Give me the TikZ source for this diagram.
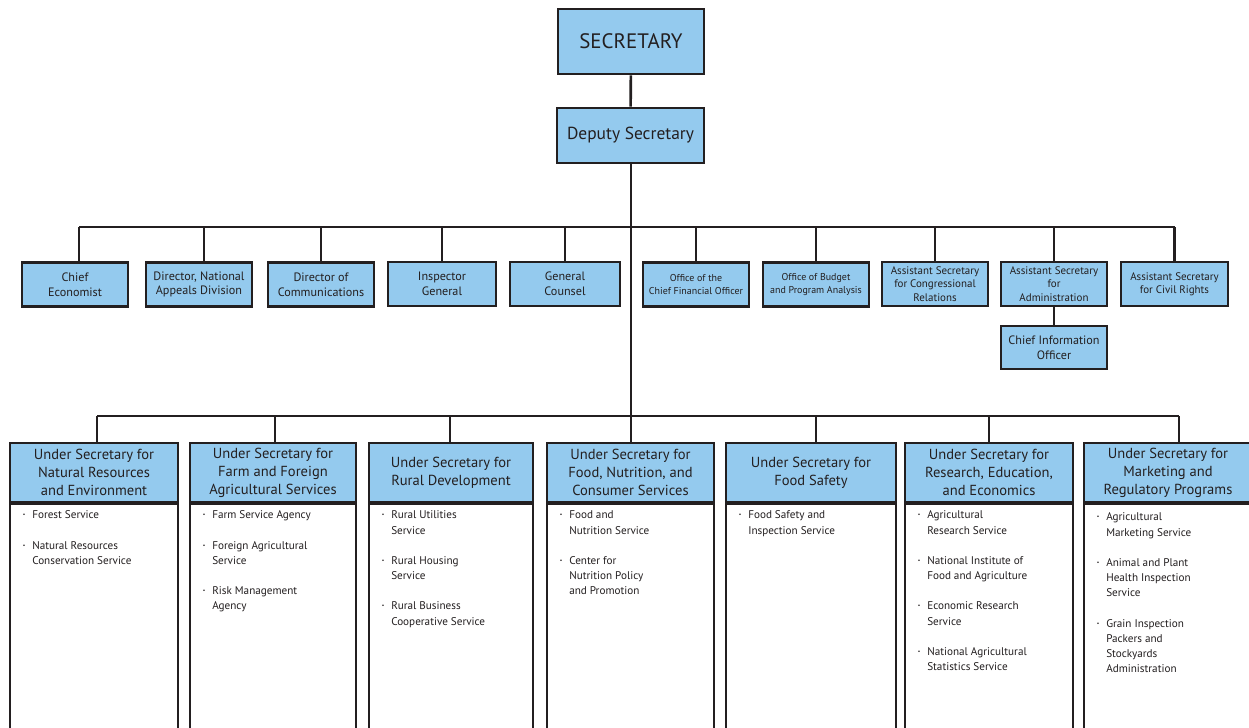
\documentclass[tikz,border=0pt]{standalone}
\usepackage{fontspec}
\setmainfont{PT Sans}
\definecolor{boxblue}{RGB}{148,202,238}
\definecolor{ink}{RGB}{35,31,32}
\newcommand{\bul}{\raisebox{0.35ex}{\fontsize{5.5}{5.5}\selectfont\textbullet}}
\begin{document}
\begin{tikzpicture}[x=1bp,y=-1bp,
  box/.style={draw=ink, fill=boxblue, line width=2.4bp, inner sep=0pt, align=center, text=ink},
  topbox/.style={box, line width=2.8bp},
  rowbox/.style={box, minimum width=106bp, minimum height=44bp, font=\fontsize{12.2}{14.8}\selectfont},
  tinybox/.style={rowbox, font=\fontsize{10}{12.8}\selectfont},
  asbox/.style={rowbox, font=\fontsize{11}{13.5}\selectfont},
  hdr/.style={box, line width=2.8bp, minimum height=59bp, font=\fontsize{14.6}{18}\selectfont},
  lst/.style={draw=ink, fill=white, line width=2.8bp, minimum height=260bp, inner sep=0pt, anchor=north},
  items/.style={anchor=north west, inner sep=0pt, text=ink, font=\fontsize{11.2}{15.3}\selectfont},
  conn/.style={draw=ink, line width=2.6bp},
  thinconn/.style={draw=ink, line width=2bp}]
\useasboundingbox (0,0) rectangle (1249,728);
\clip (0,0) rectangle (1249,728);
\fill[white] (0,0) rectangle (1249,728);

% top
\node[topbox, minimum width=146bp, minimum height=65bp, font=\fontsize{21}{24}\selectfont] (sec) at (631,41.5) {SECRETARY};
\node[topbox, minimum width=147bp, minimum height=55bp, font=\fontsize{17.5}{20}\selectfont] (dep) at (630.5,135.5) {Deputy Secretary};

% row 2
\node[rowbox] (ce) at (75,284.5) {Chief\\Economist};
\node[rowbox] (nad) at (199,284.5) {Director, National\\Appeals Division};
\node[rowbox] (com) at (321,284.5) {Director of\\Communications};
\node[rowbox, minimum width=108bp] (ig) at (442,284) {Inspector\\General};
\node[rowbox, minimum width=110bp] (gc) at (565,284) {General\\Counsel};
\node[tinybox] (cfo) at (696,284.5) {Office of the\\Chief Financial Officer};
\node[tinybox] (obpa) at (816,284.5) {Office of Budget\\and Program Analysis};
\node[asbox] (acr) at (935,284) {Assistant Secretary\\for Congressional\\Relations};
\node[asbox] (asa) at (1054,284) {Assistant Secretary\\for\\Administration};
\node[asbox, minimum width=107bp] (acv) at (1174.5,284) {Assistant Secretary\\for Civil Rights};
\node[rowbox, minimum height=43bp] (cio) at (1054,347.5) {Chief Information\\Officer};

% row 3 lists
\node[lst, minimum width=168bp] (l1) at (94,502) {};
\node[lst, minimum width=166bp] (l2) at (273,502) {};
\node[lst, minimum width=164bp] (l3) at (451,502) {};
\node[lst, minimum width=167bp] (l4) at (630.5,502) {};
\node[lst, minimum width=170bp] (l5) at (811,502) {};
\node[lst, minimum width=168bp] (l6) at (989,502) {};
\node[lst, minimum width=168bp] (l7) at (1168,502) {};

% row 3 headers
\node[hdr, minimum width=168bp] (us1) at (94,472.5) {Under Secretary for\\Natural Resources\\and Environment};
\node[hdr, minimum width=166bp] (us2) at (273,472.5) {Under Secretary for\\Farm and Foreign\\Agricultural Services};
\node[hdr, minimum width=164bp] (us3) at (451,472.5) {Under Secretary for\\Rural Development};
\node[hdr, minimum width=167bp] (us4) at (630.5,472.5) {Under Secretary for\\Food, Nutrition, and\\Consumer Services};
\node[hdr, minimum width=170bp] (us5) at (811,472.5) {Under Secretary for\\Food Safety};
\node[hdr, minimum width=168bp] (us6) at (989,472.5) {Under Secretary for\\Research, Education,\\and Economics};
\node[hdr, minimum width=168bp] (us7) at (1168,472.5) {Under Secretary for\\Marketing and\\Regulatory Programs};

% list contents
\node[items] (i1) at ([xshift=14bp,yshift=-6bp]l1.north west) {\begin{tabular}{@{}c@{\hspace{7bp}}l@{}}
\bul & Forest Service\\[15bp]
\bul & Natural Resources\\ & Conservation Service\end{tabular}};
\node[items] (i2) at ([xshift=14bp,yshift=-6bp]l2.north west) {\begin{tabular}{@{}c@{\hspace{7bp}}l@{}}
\bul & Farm Service Agency\\[15bp]
\bul & Foreign Agricultural\\ & Service\\[15bp]
\bul & Risk Management\\ & Agency\end{tabular}};
\node[items] (i3) at ([xshift=14bp,yshift=-6bp]l3.north west) {\begin{tabular}{@{}c@{\hspace{7bp}}l@{}}
\bul & Rural Utilities\\ & Service\\[15bp]
\bul & Rural Housing\\ & Service\\[15bp]
\bul & Rural Business\\ & Cooperative Service\end{tabular}};
\node[items] (i4) at ([xshift=14bp,yshift=-6bp]l4.north west) {\begin{tabular}{@{}c@{\hspace{7bp}}l@{}}
\bul & Food and\\ & Nutrition Service\\[15bp]
\bul & Center for\\ & Nutrition Policy\\ & and Promotion\end{tabular}};
\node[items] (i5) at ([xshift=14bp,yshift=-6bp]l5.north west) {\begin{tabular}{@{}c@{\hspace{7bp}}l@{}}
\bul & Food Safety and\\ & Inspection Service\end{tabular}};
\node[items] (i6) at ([xshift=14bp,yshift=-6bp]l6.north west) {\begin{tabular}{@{}c@{\hspace{7bp}}l@{}}
\bul & Agricultural\\ & Research Service\\[15bp]
\bul & National Institute of\\ & Food and Agriculture\\[15bp]
\bul & Economic Research\\ & Service\\[15bp]
\bul & National Agricultural\\ & Statistics Service\end{tabular}};
\node[items] (i7) at ([xshift=14bp,yshift=-8bp]l7.north west) {\begin{tabular}{@{}c@{\hspace{7bp}}l@{}}
\bul & Agricultural\\ & Marketing Service\\[15bp]
\bul & Animal and Plant\\ & Health Inspection\\ & Service\\[15bp]
\bul & Grain Inspection\\ & Packers and\\ & Stockyards\\ & Administration\end{tabular}};

% connectors
\coordinate (b1) at (0,227);
\coordinate (b2) at (0,416);
\draw[conn] (sec) -- (dep);
\draw[thinconn] (dep.south) -- (us4.north);
\draw[conn] ([xshift=4bp]ce.north |- b1) -- (acv.north |- b1);
\draw[conn] ([xshift=4bp]ce.north) -- ([xshift=4bp]ce.north |- b1);
\draw[conn] ([xshift=5bp]nad.north) -- ([xshift=5bp]nad.north |- b1);
\foreach \n in {com,ig,gc,cfo,obpa,acr,asa,acv}
  \draw[conn] (\n.north) -- (\n.north |- b1);
\draw[conn] (asa) -- (cio);
\draw[thinconn] ([xshift=3bp]us1.north |- b2) -- ([xshift=11bp]us7.north |- b2);
\draw[thinconn] ([xshift=3bp]us1.north) -- ([xshift=3bp]us1.north |- b2);
\draw[thinconn] ([xshift=2bp]us2.north) -- ([xshift=2bp]us2.north |- b2);
\draw[thinconn] ([xshift=-1.5bp]us3.north) -- ([xshift=-1.5bp]us3.north |- b2);
\draw[thinconn] ([xshift=5bp]us5.north) -- ([xshift=5bp]us5.north |- b2);
\draw[thinconn] (us6.north) -- (us6.north |- b2);
\draw[thinconn] ([xshift=11bp]us7.north) -- ([xshift=11bp]us7.north |- b2);
\end{tikzpicture}
\end{document}
